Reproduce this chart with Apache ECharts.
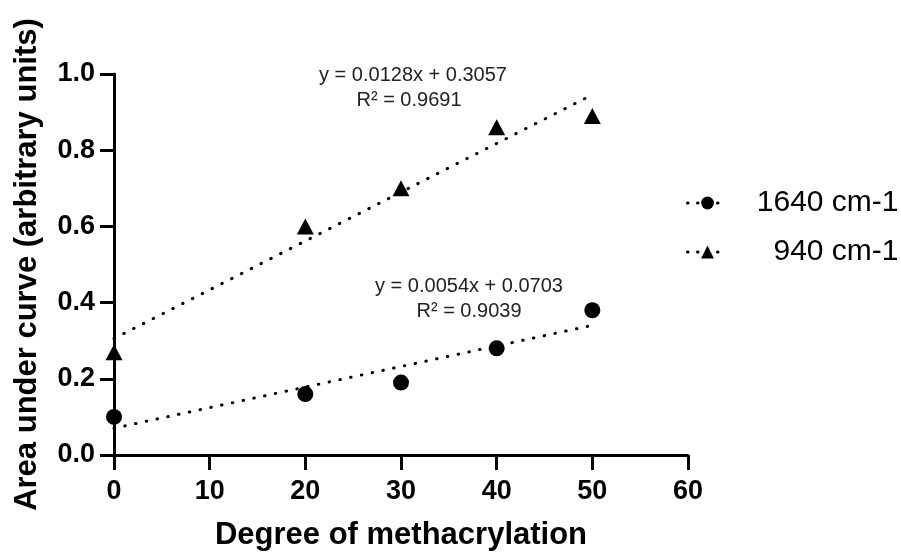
<!DOCTYPE html>
<html><head><meta charset="utf-8">
<script src="https://cdn.jsdelivr.net/npm/echarts@6/dist/echarts.min.js"></script>
<style>html,body{margin:0;padding:0;background:#fff}#c{width:901px;height:554px}</style>
</head><body><div id="c"></div>
<script>
const xValues = [0, 20, 30, 40, 50];
const series1640 = [0.10, 0.16, 0.19, 0.28, 0.38];
const series940 = [0.27, 0.60, 0.70, 0.86, 0.89];
const trend1640 = [[0, 0.0703], [50, 0.3403]];
const trend940 = [[0, 0.3057], [50, 0.9457]];
const names = ['1640 cm-1', '940 cm-1'];
const eqTexts = [['y = 0.0128x + 0.3057', 'R\u00b2 = 0.9691'], ['y = 0.0054x + 0.0703', 'R\u00b2 = 0.9039']];
const yTickLabels = ['0.0', '0.2', '0.4', '0.6', '0.8', '1.0'];

const FONT = '"Liberation Sans", Arial, sans-serif';
const chart = echarts.init(document.getElementById('c'));
const pair = (xs, ys) => xs.map((x, i) => [x, ys[i]]);
const legendLine = { opacity: 1, type: [0.5, 9.5], width: 3, color: '#000', cap: 'round' };
const trendStyle = { color: '#000', width: 3, type: [0.5, 10.5], cap: 'round' };
const eqStyle = (t) => ({ text: t, font: '20px ' + FONT, fill: '#222', align: 'center', verticalAlign: 'middle' });
const legendText = { rich: { a: { fontFamily: FONT, fontSize: 30, color: '#000', width: 166, align: 'right' } } };

chart.setOption({
  animation: false,
  grid: { left: 114, right: 213, top: 74, bottom: 99, outerBoundsMode: 'none' },
  xAxis: {
    type: 'value', min: 0, max: 60, interval: 10,
    name: 'Degree of methacrylation', nameLocation: 'middle', nameGap: 65,
    nameTextStyle: { fontFamily: FONT, fontWeight: 'bold', fontSize: 31, color: '#000' },
    axisLine: { onZero: false, lineStyle: { color: '#000', width: 3 } },
    axisTick: { show: true, length: 15, lineStyle: { color: '#000', width: 3 } },
    axisLabel: { margin: 23, fontFamily: FONT, fontWeight: 'bold', fontSize: 27, color: '#000' },
    splitLine: { show: false }
  },
  yAxis: {
    type: 'value', min: 0, max: 1, interval: 0.2,
    name: 'Area under curve (arbitrary units)', nameLocation: 'middle', nameGap: 71,
    nameTextStyle: { fontFamily: FONT, fontWeight: 'bold', fontSize: 31, color: '#000' },
    axisLine: { show: true, onZero: false, lineStyle: { color: '#000', width: 3 } },
    axisTick: { show: true, length: 14, lineStyle: { color: '#000', width: 3 } },
    axisLabel: { margin: 19, fontFamily: FONT, fontWeight: 'bold', fontSize: 27, color: '#000',
      formatter: v => yTickLabels[Math.round(v / 0.2)] },
    splitLine: { show: false }
  },
  legend: [
    { data: [names[0]], orient: 'vertical', left: 686, top: 188, itemWidth: 40, itemHeight: 16,
      itemGap: 0, padding: 0, lineStyle: legendLine, formatter: n => '{a|' + n + '}', textStyle: legendText },
    { data: [names[1]], orient: 'vertical', left: 686, top: 237, itemWidth: 40, itemHeight: 16,
      itemGap: 0, padding: 0, lineStyle: legendLine, formatter: n => '{a|' + n + '}', textStyle: legendText }
  ],
  graphic: [
    { type: 'text', x: 413, y: 75, style: eqStyle(eqTexts[0][0]) },
    { type: 'text', x: 409, y: 100, style: eqStyle(eqTexts[0][1]) },
    { type: 'text', x: 469, y: 286, style: eqStyle(eqTexts[1][0]) },
    { type: 'text', x: 469, y: 311, style: eqStyle(eqTexts[1][1]) }
  ],
  series: [
    { name: 'trend1640', type: 'line', data: trend1640, symbol: 'none', lineStyle: trendStyle, z: 1 },
    { name: 'trend940', type: 'line', data: trend940, symbol: 'none', lineStyle: trendStyle, z: 1 },
    { name: names[0], type: 'line', data: pair(xValues, series1640), symbol: 'circle', symbolSize: 16,
      itemStyle: { color: '#000' }, lineStyle: { opacity: 0, color: '#000' }, z: 3 },
    { name: names[1], type: 'line', data: pair(xValues, series940), symbol: 'triangle', symbolSize: [17, 16],
      itemStyle: { color: '#000' }, lineStyle: { opacity: 0, color: '#000' }, z: 3 }
  ]
});
</script></body></html>
